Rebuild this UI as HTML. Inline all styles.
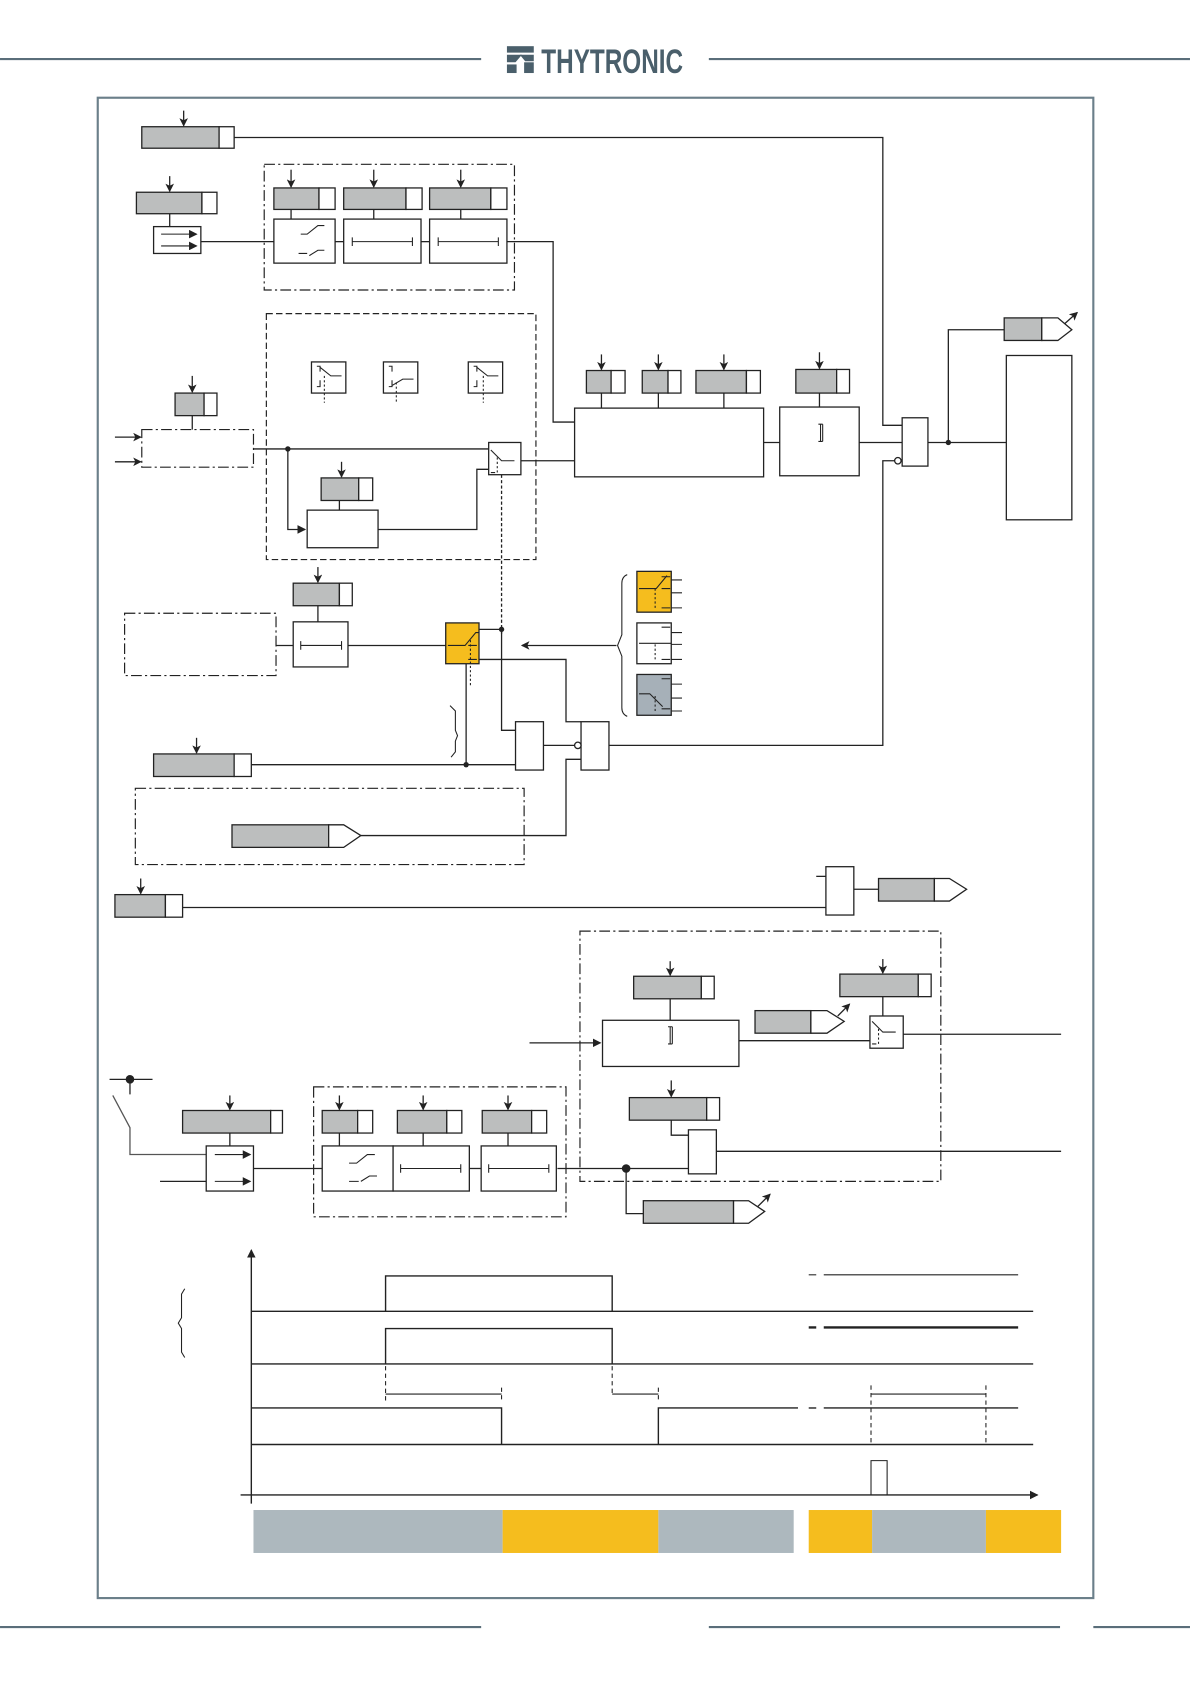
<!DOCTYPE html>
<html><head><meta charset="utf-8"><style>
html,body{margin:0;padding:0;background:#fff;}
svg{display:block;}
</style></head><body>
<svg width="1190" height="1684" viewBox="0 0 1108 1568" xmlns="http://www.w3.org/2000/svg" font-family="Liberation Sans, sans-serif">
<defs>
<marker id="ah" markerWidth="8" markerHeight="8" refX="7" refY="4" orient="auto" markerUnits="userSpaceOnUse"><path d="M0,0 L8,4 L0,8 z" fill="#222"/></marker>
<marker id="ahs" markerWidth="8" markerHeight="8" refX="7" refY="4" orient="auto" markerUnits="userSpaceOnUse"><path d="M0,0 L8,4 L0,8 L2,4 z" fill="#222"/></marker>
</defs>
<rect width="1108" height="1568" fill="#fff"/>
<!-- header -->
<g stroke="#5a6e7a" stroke-width="2">
<line x1="0" y1="55" x2="448" y2="55"/><line x1="660" y1="55" x2="1108" y2="55"/>
<line x1="0" y1="1515" x2="448" y2="1515"/><line x1="660" y1="1515" x2="987" y2="1515"/><line x1="1018" y1="1515" x2="1108" y2="1515"/>
</g>
<g fill="#4a5f6b"><rect x="472" y="43" width="25" height="6"/><path d="M472,51 L486,51 L480,58 L472,58z"/><rect x="472" y="60" width="9" height="8"/><rect x="488" y="58" width="9" height="10"/><path d="M484,51 L497,51 L497,57 L489,57z"/></g>
<text x="504" y="68" font-size="32" font-weight="bold" fill="#4a5f6b" textLength="132" lengthAdjust="spacingAndGlyphs">THYTRONIC</text>
<rect x="91" y="91" width="927" height="1397" fill="none" stroke="#6b7f8a" stroke-width="2"/>

<g stroke="#222" stroke-width="1.2" fill="none">
<!-- generic wiring -->
<polyline points="218,128 822,128 822,396 840,396"/>
<line x1="158" y1="199" x2="158" y2="211"/>
<line x1="187" y1="225" x2="255" y2="225"/>
<polyline points="472,225 515,225 515,393 535,393"/>
<line x1="312" y1="225" x2="320" y2="225"/><line x1="392" y1="225" x2="400" y2="225"/>
<line x1="271" y1="195" x2="271" y2="204"/><line x1="348" y1="195" x2="348" y2="204"/><line x1="429" y1="195" x2="429" y2="204"/>
<line x1="179" y1="387" x2="179" y2="400"/>
<line x1="236" y1="418" x2="455" y2="418"/>
<polyline points="268,418 268,493 284,493" marker-end="url(#ah)"/>
<line x1="316" y1="466" x2="316" y2="475"/>
<polyline points="352,493 444,493 444,437 455,437"/>
<line x1="485" y1="429" x2="535" y2="429"/>
<line x1="560" y1="366" x2="560" y2="380"/><line x1="613" y1="366" x2="613" y2="380"/><line x1="674" y1="366" x2="674" y2="380"/><line x1="763" y1="366" x2="763" y2="379"/>
<line x1="711" y1="412" x2="726" y2="412"/><line x1="800" y1="412" x2="840" y2="412"/>
<polyline points="833,429 822,429 822,694 566,694"/>
<line x1="864" y1="412" x2="937" y2="412"/>
<polyline points="883,412 883,307 935,307"/>
<line x1="467" y1="442" x2="467" y2="590" stroke-dasharray="3,2"/>
<polyline points="467,586 467,680 480,680"/>
<line x1="296" y1="564" x2="296" y2="579"/>
<line x1="257" y1="601" x2="273" y2="601"/>
<line x1="324" y1="601" x2="415" y2="601"/>
<line x1="446" y1="586" x2="467" y2="586"/>
<polyline points="446,614 527,614 527,672 541,672"/>
<line x1="434" y1="612" x2="434" y2="712"/>
<line x1="574" y1="601" x2="486" y2="601" marker-end="url(#ahs)"/>
<line x1="234" y1="712" x2="480" y2="712"/>
<line x1="506" y1="694" x2="535" y2="694"/>
<polyline points="336,778 527,778 527,707 541,707"/>
<line x1="170" y1="845" x2="769" y2="845"/>
<line x1="760" y1="816" x2="769" y2="816"/>
<line x1="795" y1="828" x2="818" y2="828"/>
<!-- lower -->
<line x1="624" y1="930" x2="624" y2="950"/>
<line x1="493" y1="971" x2="559" y2="971" marker-end="url(#ah)"/>
<line x1="822" y1="928" x2="822" y2="946"/>
<line x1="688" y1="969" x2="810" y2="969"/>
<line x1="841" y1="963" x2="988" y2="963"/>
<polyline points="625,1043 625,1057 641,1057"/>
<line x1="667" y1="1072" x2="988" y2="1072"/>
<line x1="519" y1="1088" x2="641" y2="1088"/>
<polyline points="583,1088 583,1130 599,1130"/>
<line x1="102" y1="1005" x2="142" y2="1005"/><line x1="121" y1="1005" x2="121" y2="1019"/>
<polyline points="105,1020 121,1050 121,1075 192,1075" stroke="#555"/>
<line x1="149" y1="1100" x2="192" y2="1100"/>
<line x1="214" y1="1055" x2="214" y2="1067"/>
<line x1="236" y1="1088" x2="300" y2="1088"/>
<line x1="366" y1="1088" x2="366" y2="1088"/><line x1="437" y1="1088" x2="448" y2="1088"/>
<line x1="316" y1="1055" x2="316" y2="1067"/><line x1="394" y1="1055" x2="394" y2="1067"/><line x1="473" y1="1055" x2="473" y2="1067"/>
</g>

<!-- down arrows -->
<g stroke="#222" stroke-width="1.2" marker-end="url(#ahs)">
<line x1="171" y1="103" x2="171" y2="117"/>
<line x1="158" y1="164" x2="158" y2="178"/>
<line x1="271" y1="158" x2="271" y2="174"/><line x1="348" y1="158" x2="348" y2="174"/><line x1="429" y1="158" x2="429" y2="174"/>
<line x1="179" y1="350" x2="179" y2="365"/>
<line x1="318" y1="430" x2="318" y2="444"/>
<line x1="560" y1="330" x2="560" y2="344"/><line x1="613" y1="330" x2="613" y2="344"/><line x1="674" y1="330" x2="674" y2="344"/><line x1="763" y1="328" x2="763" y2="343"/>
<line x1="296" y1="528" x2="296" y2="542"/>
<line x1="183" y1="687" x2="183" y2="701"/>
<line x1="131" y1="818" x2="131" y2="832"/>
<line x1="624" y1="895" x2="624" y2="908"/>
<line x1="822" y1="893" x2="822" y2="906"/>
<line x1="625" y1="1006" x2="625" y2="1021"/>
<line x1="214" y1="1020" x2="214" y2="1033"/>
<line x1="316" y1="1020" x2="316" y2="1033"/><line x1="394" y1="1020" x2="394" y2="1033"/><line x1="473" y1="1020" x2="473" y2="1033"/>
<line x1="107" y1="407" x2="131" y2="407"/><line x1="107" y1="430" x2="131" y2="430"/>
<line x1="985" y1="307" x2="1003" y2="291"/>
<line x1="780" y1="946" x2="791" y2="935"/>
<line x1="704" y1="1125" x2="717" y2="1112"/>
</g>

<!-- gray boxes -->
<g stroke="#222" stroke-width="1.2">
<rect x="132" y="118" width="72" height="20" fill="#bcbebe"/><rect x="204" y="118" width="14" height="20" fill="#fff"/>
<rect x="127" y="179" width="61" height="20" fill="#bcbebe"/><rect x="188" y="179" width="14" height="20" fill="#fff"/>
<rect x="255" y="175" width="42" height="20" fill="#bcbebe"/><rect x="297" y="175" width="15" height="20" fill="#fff"/>
<rect x="320" y="175" width="58" height="20" fill="#bcbebe"/><rect x="378" y="175" width="15" height="20" fill="#fff"/>
<rect x="400" y="175" width="57" height="20" fill="#bcbebe"/><rect x="457" y="175" width="15" height="20" fill="#fff"/>
<rect x="163" y="366" width="27" height="21" fill="#bcbebe"/><rect x="190" y="366" width="12" height="21" fill="#fff"/>
<rect x="299" y="445" width="35" height="21" fill="#bcbebe"/><rect x="334" y="445" width="13" height="21" fill="#fff"/>
<rect x="546" y="345" width="23" height="21" fill="#bcbebe"/><rect x="569" y="345" width="13" height="21" fill="#fff"/>
<rect x="598" y="345" width="24" height="21" fill="#bcbebe"/><rect x="622" y="345" width="12" height="21" fill="#fff"/>
<rect x="648" y="345" width="47" height="21" fill="#bcbebe"/><rect x="695" y="345" width="13" height="21" fill="#fff"/>
<rect x="741" y="344" width="38" height="22" fill="#bcbebe"/><rect x="779" y="344" width="12" height="22" fill="#fff"/>
<rect x="935" y="296" width="35" height="21" fill="#bcbebe"/><path d="M970,296 L985,296 L998,307 L985,317 L970,317z" fill="#fff"/>
<rect x="273" y="543" width="43" height="21" fill="#bcbebe"/><rect x="316" y="543" width="12" height="21" fill="#fff"/>
<rect x="143" y="702" width="75" height="21" fill="#bcbebe"/><rect x="218" y="702" width="16" height="21" fill="#fff"/>
<rect x="216" y="768" width="90" height="21" fill="#bcbebe"/><path d="M306,768 L320,768 L336,778 L320,789 L306,789z" fill="#fff"/>
<rect x="107" y="833" width="47" height="21" fill="#bcbebe"/><rect x="154" y="833" width="16" height="21" fill="#fff"/>
<rect x="818" y="818" width="52" height="21" fill="#bcbebe"/><path d="M870,818 L884,818 L900,828 L884,839 L870,839z" fill="#fff"/>
<rect x="590" y="909" width="63" height="21" fill="#bcbebe"/><rect x="653" y="909" width="12" height="21" fill="#fff"/>
<rect x="782" y="907" width="73" height="21" fill="#bcbebe"/><rect x="855" y="907" width="12" height="21" fill="#fff"/>
<rect x="703" y="941" width="52" height="21" fill="#bcbebe"/><path d="M755,941 L770,941 L786,951 L770,962 L755,962z" fill="#fff"/>
<rect x="586" y="1022" width="72" height="21" fill="#bcbebe"/><rect x="658" y="1022" width="12" height="21" fill="#fff"/>
<rect x="599" y="1118" width="84" height="21" fill="#bcbebe"/><path d="M683,1118 L697,1118 L712,1128 L697,1139 L683,1139z" fill="#fff"/>
<rect x="170" y="1034" width="82" height="21" fill="#bcbebe"/><rect x="252" y="1034" width="11" height="21" fill="#fff"/>
<rect x="300" y="1034" width="33" height="21" fill="#bcbebe"/><rect x="333" y="1034" width="14" height="21" fill="#fff"/>
<rect x="370" y="1034" width="46" height="21" fill="#bcbebe"/><rect x="416" y="1034" width="14" height="21" fill="#fff"/>
<rect x="449" y="1034" width="46" height="21" fill="#bcbebe"/><rect x="495" y="1034" width="14" height="21" fill="#fff"/>
</g>

<!-- white boxes -->
<g stroke="#222" stroke-width="1.2" fill="#fff">
<rect x="143" y="211" width="44" height="25"/>
<rect x="255" y="204" width="57" height="41"/><rect x="320" y="204" width="72" height="41"/><rect x="400" y="204" width="72" height="41"/>
<rect x="290" y="337" width="32" height="29"/><rect x="357" y="337" width="32" height="29"/><rect x="436" y="337" width="32" height="29"/>
<rect x="455" y="412" width="30" height="30"/>
<rect x="286" y="475" width="66" height="35"/>
<rect x="535" y="380" width="176" height="64"/>
<rect x="726" y="379" width="74" height="64"/>
<rect x="840" y="389" width="24" height="45"/>
<rect x="937" y="331" width="61" height="153"/>
<rect x="273" y="579" width="51" height="42"/>
<rect x="415" y="580" width="31" height="38" fill="#f5bd1e"/>
<rect x="593" y="532" width="32" height="38" fill="#f5bd1e"/>
<rect x="593" y="580" width="32" height="38"/>
<rect x="593" y="628" width="32" height="38" fill="#a6b0b8"/>
<rect x="480" y="672" width="26" height="45"/>
<rect x="541" y="672" width="26" height="45"/>
<rect x="769" y="807" width="26" height="45"/>
<rect x="561" y="950" width="127" height="43"/>
<rect x="810" y="946" width="31" height="30"/>
<rect x="641" y="1052" width="26" height="41"/>
<rect x="192" y="1067" width="44" height="42"/>
<rect x="300" y="1067" width="66" height="42"/><rect x="366" y="1067" width="71" height="42"/><rect x="448" y="1067" width="70" height="42"/>
<circle cx="836" cy="429" r="3"/><circle cx="538" cy="694" r="3"/>
</g>

<!-- dashed boxes -->
<g stroke="#222" stroke-width="1.1" fill="none">
<rect x="246" y="153" width="233" height="117" stroke-dasharray="10,3,2,3"/>
<rect x="248" y="292" width="251" height="229" stroke-dasharray="6,3"/>
<rect x="132" y="400" width="104" height="35" stroke-dasharray="10,3,2,3"/>
<rect x="116" y="571" width="141" height="58" stroke-dasharray="10,3,2,3"/>
<rect x="126" y="734" width="362" height="71" stroke-dasharray="10,3,2,3"/>
<rect x="540" y="867" width="336" height="233" stroke-dasharray="10,3,2,3"/>
<rect x="292" y="1012" width="235" height="121" stroke-dasharray="10,3,2,3"/>
</g>

<!-- icons inside boxes -->
<g stroke="#222" stroke-width="1" fill="none">
<line x1="150" y1="218" x2="183" y2="218" marker-end="url(#ah)"/><line x1="150" y1="229" x2="183" y2="229" marker-end="url(#ah)"/>
<line x1="200" y1="1075" x2="233" y2="1075" marker-end="url(#ah)"/><line x1="200" y1="1100" x2="233" y2="1100" marker-end="url(#ah)"/>
<path d="M280,218 h6 l10,-8 h6 M278,236 h8 M288,238 l8,-5 h6"/>
<path d="M325,1083 h7 l10,-8 h7 M325,1100 h9 M336,1100 l8,-5 h7"/>
<path d="M328,225 h56 M328,221 v8 M384,221 v8 M408,225 h56 M408,221 v8 M464,221 v8 M280,601 h38 M280,597 v8 M318,597 v8 M373,1088 h56 M373,1084 v8 M429,1084 v8 M455,1088 h56 M455,1084 v8 M511,1084 v8"/>
<path d="M295,341 h3 v5 M295,360 h3 v-6 M298,342 l10,8 h10"/><line x1="302" y1="350" x2="302" y2="375" stroke-dasharray="2,2"/>
<path d="M362,341 h3 v5 M362,360 h3 v-6 M365,359 l10,-6 h10"/><line x1="369" y1="356" x2="369" y2="375" stroke-dasharray="2,2"/>
<path d="M441,341 h3 v5 M441,360 h3 v-6 M444,342 l10,8 h10"/><line x1="450" y1="350" x2="450" y2="375" stroke-dasharray="2,2"/>
<path d="M457,419 l10,10 h12 M457,440 h4"/><line x1="463" y1="426" x2="463" y2="442" stroke-dasharray="2,2"/>
<path d="M417,601 h16 l10,-12 h3 M436,601 h8 M436,614 h8"/><line x1="438" y1="596" x2="438" y2="640" stroke-dasharray="2,2"/>
<path d="M595,548 h16 l10,-12 M616,537 h8 M616,548 h8 M616,566 h8 M625,540 h10 M625,552 h10 M625,566 h10"/><line x1="610" y1="548" x2="610" y2="568" stroke-dasharray="2,2"/>
<path d="M595,599 h30 M616,584 h8 M616,614 h8 M625,589 h10 M625,600 h10 M625,614 h10"/><line x1="610" y1="600" x2="610" y2="616" stroke-dasharray="2,2"/>
<path d="M595,646 h10 l12,12 M616,632 h8 M616,660 h8 M625,637 h10 M625,650 h10 M625,662 h10"/><line x1="610" y1="648" x2="610" y2="664" stroke-dasharray="2,2"/>
<path d="M812,951 l10,10 h12 M812,972 h4"/><line x1="818" y1="958" x2="818" y2="974" stroke-dasharray="2,2"/>
<path d="M764,395 v16 M766,395 v16 M762,395 h4 M762,411 h4"/>
<path d="M624,956 v16 M626,956 v16 M622,956 h4 M622,972 h4"/>
<path d="M584,535 q-5,2 -5,8 v48 l-4,10 l4,10 v48 q0,6 5,8"/>
<path d="M419,657 l5,5 v18 l2,5 l-2,5 v10 l-4,5"/>
<path d="M172,1200 l-3,5 v22 l-3,5 l3,5 v22 l3,5"/>
</g>
<g fill="#222"><circle cx="268" cy="418" r="2.5"/><circle cx="883" cy="412" r="2.5"/><circle cx="467" cy="586" r="2.5"/><circle cx="434" cy="712" r="2.5"/><circle cx="583" cy="1088" r="4"/><circle cx="121" cy="1005" r="4"/></g>

<!-- timing -->
<g stroke="#222" stroke-width="1.3" fill="none">
<line x1="234" y1="1400" x2="234" y2="1164" marker-end="url(#ah)"/>
<line x1="224" y1="1392" x2="966" y2="1392" marker-end="url(#ah)"/>
<line x1="234" y1="1221" x2="962" y2="1221"/>
<line x1="234" y1="1270" x2="962" y2="1270"/>
<line x1="234" y1="1345" x2="962" y2="1345"/>
<polyline points="359,1221 359,1188 570,1188 570,1221"/>
<polyline points="359,1270 359,1237 570,1237 570,1270"/>
<polyline points="234,1311 467,1311 467,1345"/>
<polyline points="613,1345 613,1311 743,1311"/>
<line x1="767" y1="1311" x2="948" y2="1311"/><line x1="753" y1="1311" x2="760" y2="1311"/>
<line x1="767" y1="1187" x2="948" y2="1187" stroke-width="1"/><line x1="753" y1="1187" x2="760" y2="1187" stroke-width="1"/>
<line x1="767" y1="1236" x2="948" y2="1236" stroke-width="2.2"/><line x1="753" y1="1236" x2="760" y2="1236" stroke-width="2.2"/>
<line x1="359" y1="1298" x2="467" y2="1298" stroke-width="1"/>
<line x1="570" y1="1298" x2="613" y2="1298" stroke-width="1"/>
<line x1="811" y1="1298" x2="918" y2="1298" stroke-width="1"/>
<polyline points="811,1392 811,1360 826,1360 826,1392" stroke-width="1"/>
</g>
<g stroke="#222" stroke-width="1" stroke-dasharray="4,3" fill="none">
<line x1="359" y1="1272" x2="359" y2="1306"/><line x1="467" y1="1292" x2="467" y2="1306"/>
<line x1="570" y1="1272" x2="570" y2="1298"/><line x1="613" y1="1292" x2="613" y2="1306"/>
<line x1="811" y1="1290" x2="811" y2="1345"/><line x1="918" y1="1290" x2="918" y2="1345"/>
</g>
<rect x="236" y="1406" width="232" height="40" fill="#adb8be"/>
<rect x="468" y="1406" width="145" height="40" fill="#f5bd1e"/>
<rect x="613" y="1406" width="126" height="40" fill="#adb8be"/>
<rect x="753" y="1406" width="59" height="40" fill="#f5bd1e"/>
<rect x="812" y="1406" width="106" height="40" fill="#adb8be"/>
<rect x="918" y="1406" width="70" height="40" fill="#f5bd1e"/>
</svg>
</body></html>
